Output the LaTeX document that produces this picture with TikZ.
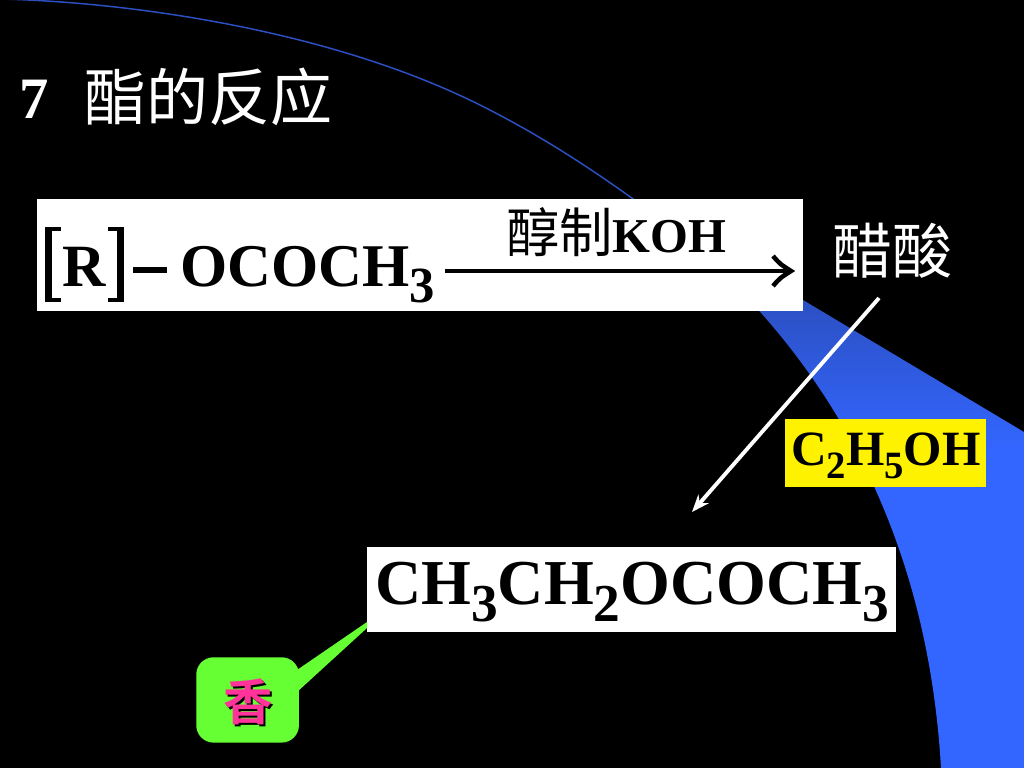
\documentclass[tikz,border=0pt]{standalone}
\usepackage{fontspec}
\setmainfont{Liberation Serif}
\newfontfamily\cjk{Noto Sans CJK SC}[BoldFont={* Bold}]
\usetikzlibrary{arrows.meta,calc}
\definecolor{bandblue}{RGB}{51,102,255}
\definecolor{banddark}{RGB}{44,80,195}
\definecolor{bubblegreen}{RGB}{102,255,51}
\definecolor{pinkink}{RGB}{255,51,153}
\newcommand{\subd}[3]{\raisebox{-#2pt}{\fontsize{#1}{#1}\selectfont #3}}
\tikzset{
  x=0.75pt,y=-0.75pt,
  chem/.style={font=\bfseries\fontsize{#1}{#1}\selectfont,text=black,inner sep=0pt,anchor=base west},
  panel/.style={inner sep=0pt,anchor=north west},
  conn/.style={white,line width=2.9pt},
  bracketstem/.style={black,line width=5pt},
  bracketfoot/.style={black,line width=3pt}
}
\begin{document}
\begin{tikzpicture}
\useasboundingbox (0,0) rectangle (1024,768);
\fill[black] (0,0) rectangle (1024,768);
% blue band
\begin{scope}
\clip (633,199) .. controls (790,310) and (925,490) .. (941,768)
  -- (1024,768) -- (1024,432) -- (803,300) -- cycle;
\shade[top color=banddark,bottom color=bandblue] (620,300) rectangle (1024,450);
\fill[banddark] (620,190) rectangle (1024,300);
\fill[bandblue] (620,450) rectangle (1024,768);
\end{scope}
\draw[banddark,line width=1.1pt] (0,-1) .. controls (130,2) and (330,30) .. (480,105) .. controls (540,135) and (590,168) .. (636,201);
% title
\node[chem=44,text=white] (num) at (19,118) {7};
\node[font=\cjk\fontsize{46.5}{50}\selectfont,text=white,inner sep=0pt,anchor=center] (title) at (208,97) {酯的反应};
% top box
\node[panel,fill=white,minimum width=574.5pt,minimum height=84pt] (topbox) at (37,199) {};
\node[chem=45] (r) at (62,286) {R};
\draw[bracketstem] (48.5,227) -- (48.5,302);
\draw[bracketfoot] (46,229) -- (61,229) (46,300) -- (61,300);
\draw[bracketstem] (120.5,227) -- (120.5,302);
\draw[bracketfoot] (108,229) -- (123,229) (108,300) -- (123,300);
\draw[black,line width=4pt] (133,270) -- (167,270);
\node[chem=45.5] (ococh) at (180,286) {OCOCH\subd{38}{12}{3}};
\coordinate (arrowstart) at (445,271);
\coordinate (arrowend) at (791,271);
\draw[black,line width=3.4pt] (arrowstart) -- (arrowend);
\draw[black,line width=3.4pt] (773,256) .. controls (780,264) .. (791,271) .. controls (780,278) .. (773,286);
\node[chem=36.5] (cat) at (506,252) {{\cjk\mdseries\fontsize{40}{40}\selectfont 醇制}KOH};
% acetic acid
\node[font=\cjk\fontsize{45}{50}\selectfont,text=white,inner sep=0pt,anchor=center] (acid) at (892,251) {醋酸};
% yellow box
\node[panel,fill=yellow,minimum width=150.75pt,minimum height=51pt] (etohbox) at (785,419) {};
\node[chem=37] (etoh) at (791,465) {C\subd{29}{10}{2}H\subd{29}{10}{5}OH};
% product box
\node[panel,fill=white,minimum width=396.75pt,minimum height=63.75pt] (prodbox) at (367,547) {};
\node[chem=48] (prod) at (375,604) {CH\subd{40}{13}{3}CH\subd{40}{13}{2}OCOCH\subd{40}{13}{3}};
% arrow
\coordinate (linestart) at (879,298);
\coordinate (lineend) at (692,512);
\draw[conn,-{Stealth[length=13pt,width=10pt]}] (linestart) -- (lineend);
% bubble
\fill[bubblegreen] (297,670) -- (367,622) -- (367,628) -- (297,692) -- cycle;
\node[panel,fill=bubblegreen,rounded corners=13pt,minimum width=77pt,minimum height=64pt] (bubble) at (196,657) {};
\node[font=\cjk\bfseries\fontsize{37}{40}\selectfont,text=black,inner sep=0pt] (shadow) at (250,704) {香};
\node[font=\cjk\bfseries\fontsize{37}{40}\selectfont,text=pinkink,inner sep=0pt] (xiang) at (248,702) {香};
\end{tikzpicture}
\end{document}
